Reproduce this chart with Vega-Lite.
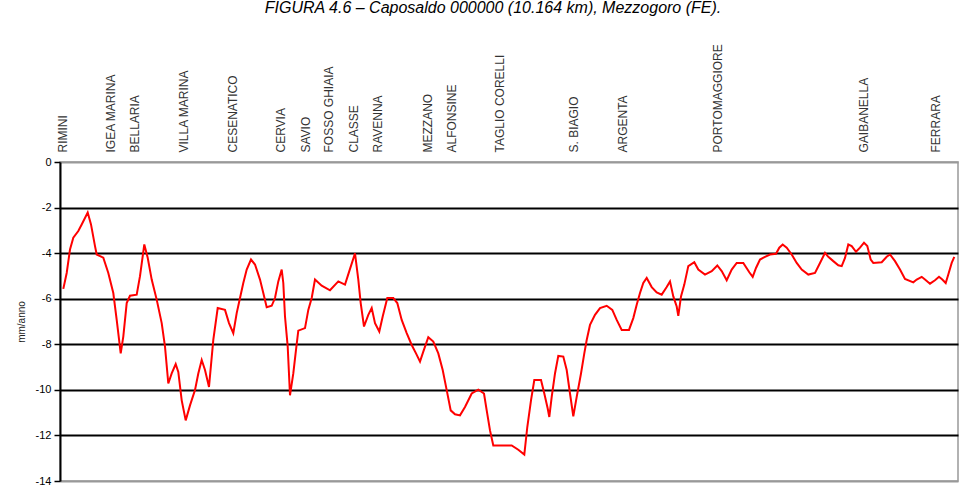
{
  "$schema": "https://vega.github.io/schema/vega-lite/v6.json",
  "width": 898,
  "height": 319,
  "autosize": {"type": "none"},
  "padding": {"left": 60, "top": 162, "right": 9, "bottom": 19},
  "background": "white",
  "title": {
    "text": "FIGURA 4.6 – Caposaldo 000000 (10.164 km), Mezzogoro (FE).",
    "font": "Liberation Sans",
    "fontStyle": "italic",
    "fontWeight": "normal",
    "fontSize": 16,
    "color": "black",
    "anchor": "middle",
    "offset": 28,
    "dx": -16
  },
  "config": {
    "font": "Liberation Sans",
    "view": {"stroke": "#999999", "strokeWidth": 1.5}
  },
  "data": {
    "values": [
      {"km": 0.66, "v": -5.57}, {"km": 1.34, "v": -4.87}, {"km": 2.0, "v": -3.84}, {"km": 2.66, "v": -3.32},
      {"km": 3.66, "v": -3.03}, {"km": 4.34, "v": -2.74}, {"km": 5.54, "v": -2.22}, {"km": 6.2, "v": -2.74},
      {"km": 7.0, "v": -3.69}, {"km": 7.34, "v": -4.06}, {"km": 8.66, "v": -4.2}, {"km": 9.66, "v": -4.87},
      {"km": 10.66, "v": -5.75}, {"km": 11.34, "v": -6.93}, {"km": 12.14, "v": -8.4}, {"km": 12.66, "v": -7.66},
      {"km": 13.34, "v": -6.19}, {"km": 14.0, "v": -5.87}, {"km": 15.34, "v": -5.82}, {"km": 16.0, "v": -5.01},
      {"km": 16.86, "v": -3.62}, {"km": 17.54, "v": -4.2}, {"km": 18.34, "v": -5.16}, {"km": 19.34, "v": -6.04},
      {"km": 20.34, "v": -7.07}, {"km": 21.0, "v": -8.1}, {"km": 21.66, "v": -9.72}, {"km": 22.34, "v": -9.28},
      {"km": 23.14, "v": -8.87}, {"km": 23.66, "v": -9.21}, {"km": 24.34, "v": -10.46}, {"km": 25.14, "v": -11.34},
      {"km": 26.0, "v": -10.68}, {"km": 27.0, "v": -10.01}, {"km": 27.66, "v": -9.28}, {"km": 28.34, "v": -8.69},
      {"km": 29.0, "v": -9.13}, {"km": 29.8, "v": -9.87}, {"km": 30.66, "v": -7.81}, {"km": 31.54, "v": -6.41},
      {"km": 33.0, "v": -6.49}, {"km": 33.8, "v": -7.07}, {"km": 34.66, "v": -7.51}, {"km": 35.34, "v": -6.63},
      {"km": 36.0, "v": -5.97}, {"km": 36.66, "v": -5.31}, {"km": 37.34, "v": -4.72}, {"km": 38.2, "v": -4.28},
      {"km": 39.0, "v": -4.5}, {"km": 40.0, "v": -5.16}, {"km": 40.66, "v": -5.75}, {"km": 41.34, "v": -6.37},
      {"km": 42.34, "v": -6.31}, {"km": 43.0, "v": -5.97}, {"km": 43.66, "v": -5.24}, {"km": 44.34, "v": -4.72},
      {"km": 44.66, "v": -5.31}, {"km": 45.0, "v": -6.78}, {"km": 45.54, "v": -8.1}, {"km": 46.0, "v": -10.24},
      {"km": 46.66, "v": -9.28}, {"km": 47.2, "v": -8.25}, {"km": 47.66, "v": -7.4}, {"km": 49.0, "v": -7.29},
      {"km": 49.66, "v": -6.49}, {"km": 50.34, "v": -5.97}, {"km": 51.0, "v": -5.16}, {"km": 52.34, "v": -5.43},
      {"km": 54.0, "v": -5.63}, {"km": 55.66, "v": -5.24}, {"km": 57.0, "v": -5.38}, {"km": 57.86, "v": -4.79},
      {"km": 59.0, "v": -4.01}, {"km": 59.66, "v": -5.16}, {"km": 60.14, "v": -6.19}, {"km": 60.8, "v": -7.22},
      {"km": 61.66, "v": -6.71}, {"km": 62.34, "v": -6.41}, {"km": 63.0, "v": -7.07}, {"km": 63.86, "v": -7.44},
      {"km": 64.54, "v": -6.78}, {"km": 65.46, "v": -5.97}, {"km": 66.66, "v": -5.97}, {"km": 67.46, "v": -6.19},
      {"km": 68.34, "v": -6.93}, {"km": 69.34, "v": -7.51}, {"km": 70.34, "v": -8.03}, {"km": 71.2, "v": -8.4},
      {"km": 72.0, "v": -8.76}, {"km": 72.66, "v": -8.32}, {"km": 73.66, "v": -7.69}, {"km": 74.66, "v": -7.88},
      {"km": 75.66, "v": -8.4}, {"km": 76.54, "v": -9.13}, {"km": 77.34, "v": -10.01}, {"km": 78.14, "v": -10.9},
      {"km": 79.0, "v": -11.07}, {"km": 80.0, "v": -11.12}, {"km": 81.0, "v": -10.75}, {"km": 82.34, "v": -10.16},
      {"km": 83.66, "v": -9.99}, {"km": 84.8, "v": -10.16}, {"km": 85.34, "v": -10.9}, {"km": 86.0, "v": -11.78},
      {"km": 86.66, "v": -12.44}, {"km": 88.66, "v": -12.44}, {"km": 90.34, "v": -12.44}, {"km": 91.66, "v": -12.63},
      {"km": 92.86, "v": -12.84}, {"km": 93.46, "v": -11.63}, {"km": 94.2, "v": -10.46}, {"km": 94.86, "v": -9.57},
      {"km": 96.2, "v": -9.57}, {"km": 96.86, "v": -10.16}, {"km": 97.54, "v": -10.82}, {"km": 97.86, "v": -11.19},
      {"km": 98.34, "v": -10.31}, {"km": 99.0, "v": -9.28}, {"km": 99.66, "v": -8.51}, {"km": 100.66, "v": -8.54},
      {"km": 101.34, "v": -9.13}, {"km": 102.0, "v": -10.16}, {"km": 102.66, "v": -11.16}, {"km": 103.34, "v": -10.31},
      {"km": 104.2, "v": -9.28}, {"km": 104.86, "v": -8.4}, {"km": 105.34, "v": -7.81}, {"km": 106.0, "v": -7.15},
      {"km": 107.0, "v": -6.71}, {"km": 108.0, "v": -6.41}, {"km": 109.34, "v": -6.31}, {"km": 110.46, "v": -6.49},
      {"km": 111.34, "v": -6.93}, {"km": 112.34, "v": -7.37}, {"km": 113.8, "v": -7.37}, {"km": 114.66, "v": -6.85},
      {"km": 115.34, "v": -6.26}, {"km": 116.0, "v": -5.75}, {"km": 116.66, "v": -5.31}, {"km": 117.34, "v": -5.09},
      {"km": 118.34, "v": -5.49}, {"km": 119.34, "v": -5.72}, {"km": 120.34, "v": -5.82}, {"km": 121.34, "v": -5.49},
      {"km": 122.0, "v": -5.24}, {"km": 122.66, "v": -5.9}, {"km": 123.34, "v": -6.34}, {"km": 123.66, "v": -6.75},
      {"km": 124.2, "v": -5.9}, {"km": 124.86, "v": -5.38}, {"km": 125.66, "v": -4.57}, {"km": 126.86, "v": -4.4},
      {"km": 127.66, "v": -4.72}, {"km": 129.0, "v": -4.94}, {"km": 130.34, "v": -4.79}, {"km": 131.46, "v": -4.54},
      {"km": 132.34, "v": -4.79}, {"km": 133.34, "v": -5.19}, {"km": 134.34, "v": -4.72}, {"km": 135.34, "v": -4.43},
      {"km": 136.66, "v": -4.43}, {"km": 137.86, "v": -4.84}, {"km": 138.54, "v": -5.04}, {"km": 139.2, "v": -4.65},
      {"km": 140.0, "v": -4.28}, {"km": 141.0, "v": -4.16}, {"km": 142.0, "v": -4.06}, {"km": 143.2, "v": -4.03},
      {"km": 143.86, "v": -3.76}, {"km": 144.54, "v": -3.62}, {"km": 145.34, "v": -3.76}, {"km": 146.34, "v": -4.06},
      {"km": 147.34, "v": -4.43}, {"km": 148.34, "v": -4.72}, {"km": 149.66, "v": -4.94}, {"km": 151.0, "v": -4.87},
      {"km": 152.0, "v": -4.43}, {"km": 153.0, "v": -3.99}, {"km": 153.66, "v": -4.16}, {"km": 154.66, "v": -4.35},
      {"km": 155.66, "v": -4.53}, {"km": 156.34, "v": -4.57}, {"km": 157.0, "v": -4.21}, {"km": 157.66, "v": -3.62},
      {"km": 158.34, "v": -3.69}, {"km": 159.2, "v": -3.94}, {"km": 160.0, "v": -3.76}, {"km": 160.8, "v": -3.54},
      {"km": 161.46, "v": -3.69}, {"km": 162.14, "v": -4.28}, {"km": 162.66, "v": -4.43}, {"km": 164.34, "v": -4.4},
      {"km": 165.34, "v": -4.16}, {"km": 166.0, "v": -4.06}, {"km": 167.0, "v": -4.35}, {"km": 168.0, "v": -4.72},
      {"km": 169.0, "v": -5.13}, {"km": 170.66, "v": -5.28}, {"km": 171.34, "v": -5.16}, {"km": 172.34, "v": -5.04},
      {"km": 173.0, "v": -5.16}, {"km": 174.0, "v": -5.34}, {"km": 175.0, "v": -5.19}, {"km": 175.8, "v": -5.04},
      {"km": 176.46, "v": -5.16}, {"km": 177.14, "v": -5.31}, {"km": 177.66, "v": -4.94}, {"km": 178.34, "v": -4.43},
      {"km": 178.86, "v": -4.16}
    ]
  },
  "mark": {"type": "line", "color": "#ff0000", "strokeWidth": 2},
  "encoding": {
    "x": {
      "field": "km",
      "type": "quantitative",
      "scale": {"domain": [0, 179.6], "nice": false, "zero": false},
      "axis": {
        "orient": "top",
        "title": null,
        "values": [0.4, 10, 14.8, 24.6, 34.4, 44, 49, 53.6, 58.6, 63.4, 73.4, 78.2, 87.8, 102.6, 112.4, 131.4, 160.6, 175],
        "labelExpr": "{'0.4':'RIMINI','10':'IGEA MARINA','14.8':'BELLARIA','24.6':'VILLA MARINA','34.4':'CESENATICO','44':'CERVIA','49':'SAVIO','53.6':'FOSSO GHIAIA','58.6':'CLASSE','63.4':'RAVENNA','73.4':'MEZZANO','78.2':'ALFONSINE','87.8':'TAGLIO CORELLI','102.6':'S. BIAGIO','112.4':'ARGENTA','131.4':'PORTOMAGGIORE','160.6':'GAIBANELLA','175':'FERRARA'}['' + datum.value]",
        "labelAngle": -90,
        "labelAlign": "left",
        "labelBaseline": "middle",
        "ticks": false,
        "domain": false,
        "grid": false,
        "labelPadding": 10,
        "labelFontSize": 12,
        "labelColor": "#333333",
        "labelOverlap": false,
        "labelBound": false,
        "labelFlush": false
      }
    },
    "y": {
      "field": "v",
      "type": "quantitative",
      "scale": {"domain": [-14, 0], "nice": false},
      "axis": {
        "title": "mm/anno",
        "values": [0, -2, -4, -6, -8, -10, -12, -14],
        "labelExpr": "'' + datum.value",
        "grid": true,
        "gridColor": {"condition": {"test": "datum.value === 0 || datum.value === -14", "value": "#999999"}, "value": "black"},
        "gridWidth": 2,
        "gridOpacity": 1,
        "domainColor": "black",
        "domainWidth": 2,
        "tickColor": "black",
        "tickSize": 6,
        "tickWidth": 1.5,
        "labelFontSize": 11,
        "labelColor": "black",
        "labelPadding": 3,
        "titleFontSize": 10,
        "titleFontWeight": "normal",
        "titleColor": "#222222",
        "titlePadding": 9
      }
    }
  }
}
